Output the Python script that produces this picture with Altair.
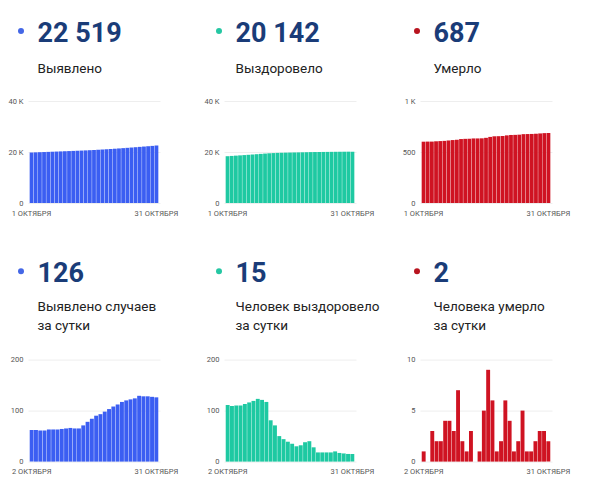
import altair as alt
import pandas as pd

# Days of October shown on the x axis
days_total = list(range(1, 32))
days_daily = list(range(2, 32))

# Cumulative totals, 1-31 October
cases_total = [19801, 19863, 19925, 19986, 20047, 20110, 20173, 20236, 20300, 20365,
               20431, 20496, 20561, 20632, 20710, 20794, 20884, 20977, 21075, 21178,
               21286, 21398, 21515, 21635, 21757, 21881, 22010, 22138, 22266, 22393, 22519]
recovered_total = [18350, 18461, 18570, 18680, 18790, 18903, 19019, 19138, 19261, 19382,
                   19499, 19580, 19651, 19701, 19745, 19784, 19819, 19849, 19881, 19919,
                   19959, 19987, 20005, 20023, 20041, 20059, 20079, 20096, 20112, 20127, 20142]
deaths_total = [601, 602, 602, 605, 607, 609, 613, 617, 620, 627,
                629, 630, 633, 633, 634, 639, 648, 654, 655, 657,
                663, 667, 668, 670, 675, 676, 677, 679, 682, 685, 687]

# Daily values, 2-31 October
cases_daily = [62, 62, 61, 61, 63, 63, 63, 64, 65, 66, 65, 65, 71, 78, 84,
               90, 93, 98, 103, 108, 112, 117, 120, 122, 124, 129, 128, 128, 127, 126]
recovered_daily = [111, 109, 110, 110, 113, 116, 119, 123, 121, 117, 81, 71, 50, 44, 39,
                   35, 30, 32, 38, 40, 28, 18, 18, 18, 18, 20, 17, 16, 15, 15]
deaths_daily = [1, 0, 3, 2, 2, 4, 4, 3, 7, 2, 1, 3, 0, 1, 5,
                9, 6, 1, 2, 6, 4, 1, 2, 5, 1, 1, 2, 3, 3, 2]

# Headline numbers and captions
numbers = ["22 519", "20 142", "687", "126", "15", "2"]
captions = [["Выявлено"], ["Выздоровело"], ["Умерло"],
            ["Выявлено случаев", "за сутки"],
            ["Человек выздоровело", "за сутки"],
            ["Человека умерло", "за сутки"]]
x_labels_total = ["1 ОКТЯБРЯ", "31 ОКТЯБРЯ"]
x_labels_daily = ["2 ОКТЯБРЯ", "31 ОКТЯБРЯ"]

BLUE, TEAL, RED = "#3b5ef2", "#1ec9a2", "#cf1322"
DOT_COLORS = ["#4467e6", "#25c7a3", "#b8141f"]
NAVY = "#1a3c78"
FONT = "Roboto"

W, H = 132, 102
head_x = [9.5, 11.5, 13.5]  # header offset from the plot's left edge, per column


def panel(col, days, values, color, number, caption, y_max, y_ticks, x_labels, row):
    df = pd.DataFrame({"day": days, "value": values})
    bars = alt.Chart(df).mark_bar(color=color).encode(
        x=alt.X("day:O", title=None,
                scale=alt.Scale(paddingInner=0.09, paddingOuter=0.4),
                axis=alt.Axis(values=[days[0], days[-1]],
                              labelExpr=f"datum.value == {days[0]} ? '{x_labels[0]}' : '{x_labels[1]}'",
                              labelAngle=0, ticks=False, domain=False, labelPadding=6,
                              labelFontSize=7.5)),
        y=alt.Y("value:Q", title=None,
                scale=alt.Scale(domain=[0, y_max], nice=False),
                axis=alt.Axis(values=y_ticks, ticks=False, domain=False, labelPadding=5,
                              labelFontSize=7.5,
                              labelExpr="datum.value >= 1000 ? (datum.value / 1000) + ' K' : datum.label"))
    )

    # header placement relative to the plot's top-left corner
    if row == 0:
        dot_y, num_y, cap_y = -70, -59, -28.3
    else:
        dot_y, num_y, cap_y = -88.3, -77.3, -48.3

    head = pd.DataFrame({"number": [number], "caption": ["\n".join(caption)]})
    dot = alt.Chart(head).mark_circle(color=DOT_COLORS[col], size=36, opacity=1).encode(
        x=alt.value(head_x[col] - 16.5), y=alt.value(dot_y))
    num = alt.Chart(head).mark_text(align="left", baseline="alphabetic", fontSize=27,
                                    fontWeight="bold", color=NAVY, font=FONT).encode(
        x=alt.value(head_x[col]), y=alt.value(num_y), text="number:N")
    cap = alt.Chart(head).mark_text(align="left", baseline="alphabetic", fontSize=13.5,
                                    color="#222222", font=FONT, lineBreak="\n",
                                    lineHeight=19).encode(
        x=alt.value(head_x[col]), y=alt.value(cap_y), text="caption:N")

    return alt.layer(bars, dot, num, cap).properties(width=W, height=H)


panels = [
    panel(0, days_total, cases_total, BLUE, numbers[0], captions[0], 40000, [0, 20000, 40000], x_labels_total, 0),
    panel(1, days_total, recovered_total, TEAL, numbers[1], captions[1], 40000, [0, 20000, 40000], x_labels_total, 0),
    panel(2, days_total, deaths_total, RED, numbers[2], captions[2], 1000, [0, 500, 1000], x_labels_total, 0),
    panel(0, days_daily, cases_daily, BLUE, numbers[3], captions[3], 200, [0, 100, 200], x_labels_daily, 1),
    panel(1, days_daily, recovered_daily, TEAL, numbers[4], captions[4], 200, [0, 100, 200], x_labels_daily, 1),
    panel(2, days_daily, deaths_daily, RED, numbers[5], captions[5], 10, [0, 5, 10], x_labels_daily, 1),
]

chart = alt.concat(
    *panels, columns=3, spacing={"row": 156.6, "column": 64}, bounds="flush"
).properties(
    padding={"left": 0, "top": 12, "right": 5, "bottom": 5},
    background="white"
).configure_view(
    stroke=None
).configure_axis(
    gridColor="#eeeeee",
    labelColor="#555555",
    labelFont=FONT
)

chart.save("out.html", embed_options={"renderer": "svg", "actions": False})
